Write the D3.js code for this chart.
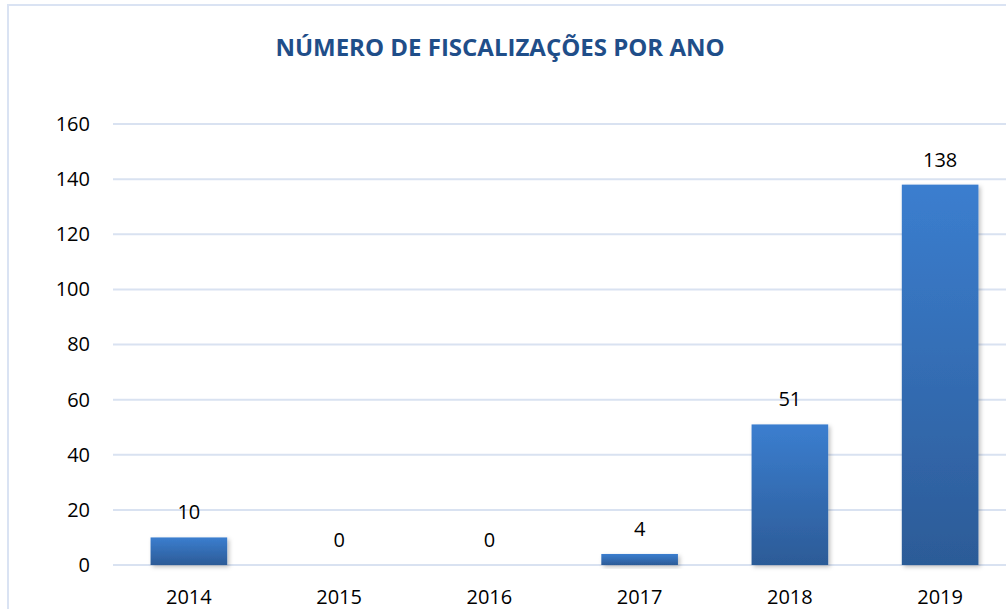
<!DOCTYPE html>
<html>
<head>
<meta charset="utf-8">
<script src="https://cdn.jsdelivr.net/npm/d3@7"></script>
<style>
  body { margin: 0; background: #fff; }
  text { font-family: "Open Sans", "Noto Sans", sans-serif; fill: #000; }
</style>
</head>
<body>
<div id="chart"></div>
<script>
// chart data
var years = ["2014", "2015", "2016", "2017", "2018", "2019"];
var fiscalizacoes = [10, 0, 0, 4, 51, 138];
var yTicks = [0, 20, 40, 60, 80, 100, 120, 140, 160];
var chartTitle = "NÚMERO DE FISCALIZAÇÕES POR ANO";

var svgWidth = 1006;
var svgHeight = 609;

var svg = d3.select("#chart")
    .append("svg")
    .attr("width", svgWidth)
    .attr("height", svgHeight);

var defs = svg.append("defs");

// gradient for the bars (lighter top, darker bottom)
var grad = defs.append("linearGradient")
    .attr("id", "barGrad")
    .attr("x1", 0).attr("y1", 0)
    .attr("x2", 0).attr("y2", 1);
grad.append("stop").attr("offset", "0%").attr("stop-color", "#3b7ecf");
grad.append("stop").attr("offset", "100%").attr("stop-color", "#2c5b97");

// soft shadow
var shadow = defs.append("filter")
    .attr("id", "shadow")
    .attr("x", "-20%").attr("y", "-20%")
    .attr("width", "150%").attr("height", "150%");
shadow.append("feDropShadow")
    .attr("dx", 2).attr("dy", 2)
    .attr("stdDeviation", 2)
    .attr("flood-color", "#000")
    .attr("flood-opacity", 0.25);

// outer border of the chart area
svg.append("rect")
    .attr("x", 8)
    .attr("y", 5)
    .attr("width", 1100)
    .attr("height", 700)
    .attr("fill", "none")
    .attr("stroke", "#dae3f3")
    .attr("stroke-width", 2);

// title
svg.append("text")
    .attr("x", 500)
    .attr("y", 56)
    .attr("text-anchor", "middle")
    .style("font-size", "24px")
    .style("font-weight", "bold")
    .style("fill", "#1f4e89")
    .text(chartTitle);

var xScale = d3.scaleBand()
    .domain(years)
    .range([113, 1016])
    .paddingInner(0.49)
    .paddingOuter(0.25);

var yScale = d3.scaleLinear()
    .domain([0, 160])
    .range([565, 124]);

// gridlines
svg.append("g")
    .selectAll("line")
    .data(yTicks)
    .enter()
    .append("line")
    .attr("x1", 113)
    .attr("x2", 1016)
    .attr("y1", d => yScale(d))
    .attr("y2", d => yScale(d))
    .attr("stroke", "#d9e2f1")
    .attr("stroke-width", 2);

// y axis labels
var yAxis = d3.axisLeft(yScale)
    .tickValues(yTicks)
    .tickSize(0)
    .tickPadding(0);

var yAxisGroup = svg.append("g")
    .attr("transform", "translate(90, 0)")
    .call(yAxis);
yAxisGroup.select(".domain").remove();
yAxisGroup.selectAll("text")
    .style("font-size", "20px")
    .style("font-family", "\"Open Sans\", sans-serif")
    .attr("fill", "#000");

// x axis labels
var xAxis = d3.axisBottom(xScale)
    .tickSize(0)
    .tickPadding(0);

var xAxisGroup = svg.append("g")
    .attr("transform", "translate(0, 590)")
    .call(xAxis);
xAxisGroup.select(".domain").remove();
xAxisGroup.selectAll("text")
    .style("font-size", "20px")
    .style("font-family", "\"Open Sans\", sans-serif")
    .attr("fill", "#000");

var data = years.map((y, i) => ({ year: y, value: fiscalizacoes[i] }));

// bars
svg.append("g")
    .selectAll("rect")
    .data(data.filter(d => d.value > 0))
    .enter()
    .append("rect")
    .attr("x", d => xScale(d.year))
    .attr("y", d => yScale(d.value))
    .attr("width", xScale.bandwidth())
    .attr("height", d => yScale(0) - yScale(d.value))
    .attr("fill", "url(#barGrad)")
    .attr("filter", "url(#shadow)");

// value labels
svg.append("g")
    .selectAll("text")
    .data(data)
    .enter()
    .append("text")
    .attr("x", d => xScale(d.year) + xScale.bandwidth() / 2)
    .attr("y", d => yScale(d.value) - 18)
    .attr("text-anchor", "middle")
    .style("font-size", "20px")
    .text(d => d.value);
</script>
</body>
</html>
